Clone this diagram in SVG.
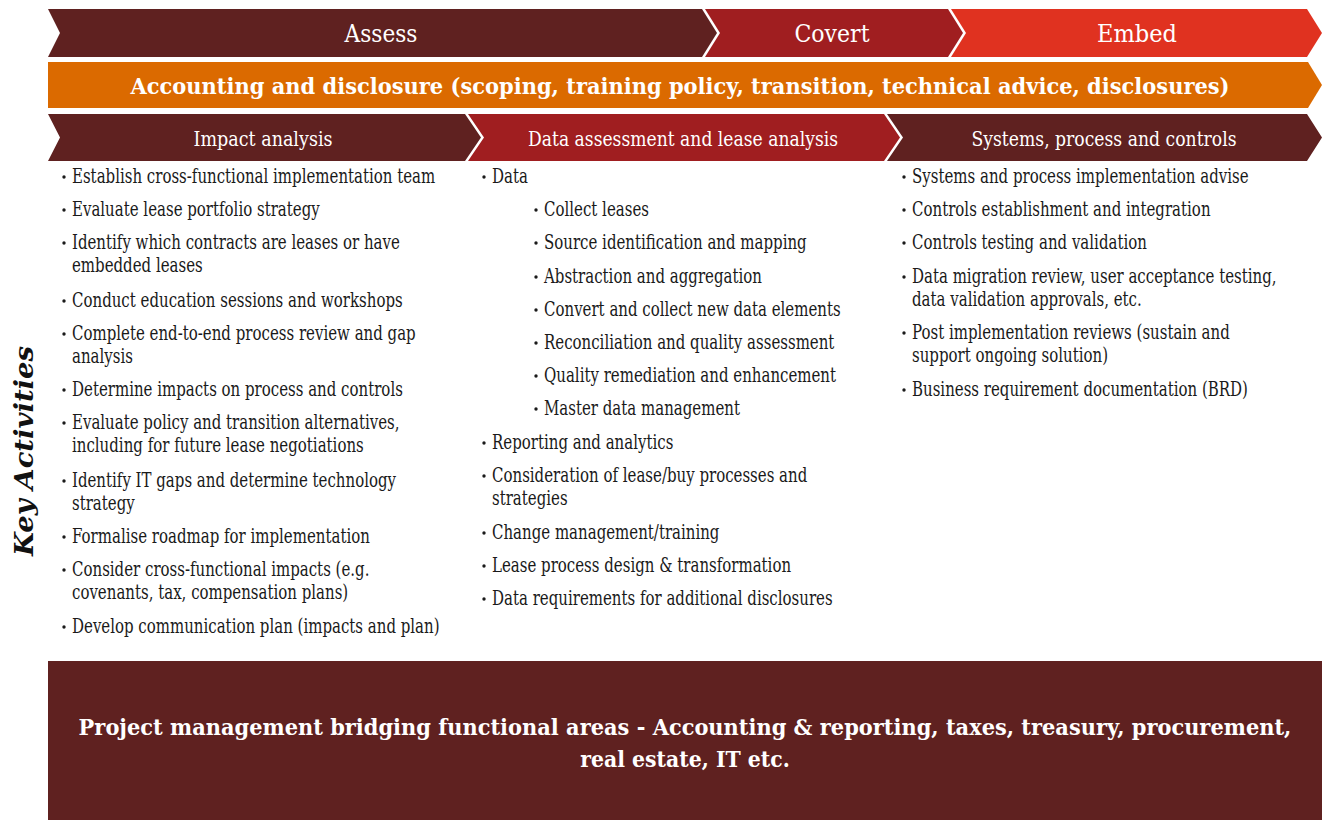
<svg xmlns="http://www.w3.org/2000/svg" width="1328" height="820" viewBox="0 0 1328 820">
  <style>
    .maroon { fill: #5f2120; }
    .red { fill: #a01e20; }
    .bright { fill: #e03220; }
    .orange { fill: #db6a00; }
    .hd { font-family: "DejaVu Serif", "Liberation Serif", serif; fill: #ffffff; text-anchor: middle; }
    .phase { font-size: 24px; }
    .band { font-size: 22px; font-weight: bold; }
    .stream { font-size: 20px; }
    .foot { font-size: 23px; font-weight: bold; }
    .body { font-family: "DejaVu Serif", "Liberation Serif", serif; font-size: 20px; fill: #1a1a1a; }
    .dot { fill: #1a1a1a; }
    .side { font-family: "DejaVu Serif", "Liberation Serif", serif; font-size: 26px; font-weight: bold; font-style: italic; fill: #111111; text-anchor: middle; }
  </style>

  <!-- phase chevrons -->
  <g id="phase-assess">
    <polygon class="maroon" points="48,9 702,9 717,33 702,57 48,57 60,33"/>
    <text class="hd phase" x="381" y="42" textLength="73" lengthAdjust="spacingAndGlyphs">Assess</text>
  </g>
  <g id="phase-covert">
    <polygon class="red" points="705,9 948,9 963,33 948,57 705,57 720,33"/>
    <text class="hd phase" x="832" y="42" textLength="75" lengthAdjust="spacingAndGlyphs">Covert</text>
  </g>
  <g id="phase-embed">
    <polygon class="bright" points="951,9 1307,9 1322,33 1307,57 951,57 966,33"/>
    <text class="hd phase" x="1137" y="42" textLength="80" lengthAdjust="spacingAndGlyphs">Embed</text>
  </g>

  <!-- accounting band -->
  <g id="accounting-band">
    <polygon class="orange" points="48,62 1308,62 1322,85 1308,108 48,108"/>
    <text class="hd band" transform="translate(680,94) scale(0.85,1)" x="0" y="0" textLength="1293" lengthAdjust="spacingAndGlyphs">Accounting and disclosure (scoping, training policy, transition, technical advice, disclosures)</text>
  </g>

  <!-- workstream chevrons -->
  <g id="stream-impact">
    <polygon class="maroon" points="48,114 465,114 481,137.5 465,161 48,161 60,137.5"/>
    <text class="hd stream" x="263" y="146" textLength="139" lengthAdjust="spacingAndGlyphs">Impact analysis</text>
  </g>
  <g id="stream-data">
    <polygon class="red" points="468,114 884,114 900,137.5 884,161 468,161 484,137.5"/>
    <text class="hd stream" x="683" y="146" textLength="310" lengthAdjust="spacingAndGlyphs">Data assessment and lease analysis</text>
  </g>
  <g id="stream-systems">
    <polygon class="maroon" points="887,114 1307,114 1322,137.5 1307,161 887,161 903,137.5"/>
    <text class="hd stream" x="1104" y="146" textLength="265" lengthAdjust="spacingAndGlyphs">Systems, process and controls</text>
  </g>

  <!-- side label -->
  <g id="key-activities">
    <text class="side" transform="translate(33,451) rotate(-90)" textLength="210" lengthAdjust="spacingAndGlyphs">Key Activities</text>
  </g>

  <!-- impact analysis activities -->
  <g id="list-impact">
    <g class="dot">
      <circle cx="64" cy="177" r="1.7"/>
      <circle cx="64" cy="210" r="1.7"/>
      <circle cx="64" cy="243" r="1.7"/>
      <circle cx="64" cy="301" r="1.7"/>
      <circle cx="64" cy="334" r="1.7"/>
      <circle cx="64" cy="390" r="1.7"/>
      <circle cx="64" cy="423" r="1.7"/>
      <circle cx="64" cy="481" r="1.7"/>
      <circle cx="64" cy="537" r="1.7"/>
      <circle cx="64" cy="570" r="1.7"/>
      <circle cx="64" cy="627" r="1.7"/>
    </g>
    <g class="body" transform="translate(72,0) scale(0.75,1)">
      <text x="0" y="183">Establish cross-functional implementation team</text>
      <text x="0" y="216">Evaluate lease portfolio strategy</text>
      <text x="0" y="249">Identify which contracts are leases or have</text>
      <text x="0" y="272">embedded leases</text>
      <text x="0" y="307">Conduct education sessions and workshops</text>
      <text x="0" y="340">Complete end-to-end process review and gap</text>
      <text x="0" y="363">analysis</text>
      <text x="0" y="396">Determine impacts on process and controls</text>
      <text x="0" y="429">Evaluate policy and transition alternatives,</text>
      <text x="0" y="452">including for future lease negotiations</text>
      <text x="0" y="487">Identify IT gaps and determine technology</text>
      <text x="0" y="510">strategy</text>
      <text x="0" y="543">Formalise roadmap for implementation</text>
      <text x="0" y="576">Consider cross-functional impacts (e.g.</text>
      <text x="0" y="599">covenants, tax, compensation plans)</text>
      <text x="0" y="633">Develop communication plan (impacts and plan)</text>
    </g>
  </g>

  <!-- data assessment activities -->
  <g id="list-data">
    <g class="dot">
      <circle cx="484" cy="177" r="1.7"/>
      <circle cx="536" cy="210" r="1.7"/>
      <circle cx="536" cy="243" r="1.7"/>
      <circle cx="536" cy="277" r="1.7"/>
      <circle cx="536" cy="310" r="1.7"/>
      <circle cx="536" cy="343" r="1.7"/>
      <circle cx="536" cy="376" r="1.7"/>
      <circle cx="536" cy="409" r="1.7"/>
      <circle cx="484" cy="443" r="1.7"/>
      <circle cx="484" cy="476" r="1.7"/>
      <circle cx="484" cy="533" r="1.7"/>
      <circle cx="484" cy="566" r="1.7"/>
      <circle cx="484" cy="599" r="1.7"/>
    </g>
    <g class="body" transform="translate(492,0) scale(0.75,1)">
      <text x="0" y="183">Data</text>
      <text x="0" y="449">Reporting and analytics</text>
      <text x="0" y="482">Consideration of lease/buy processes and</text>
      <text x="0" y="505">strategies</text>
      <text x="0" y="539">Change management/training</text>
      <text x="0" y="572">Lease process design &amp; transformation</text>
      <text x="0" y="605">Data requirements for additional disclosures</text>
    </g>
    <g class="body" transform="translate(544,0) scale(0.75,1)">
      <text x="0" y="216">Collect leases</text>
      <text x="0" y="249">Source identification and mapping</text>
      <text x="0" y="283">Abstraction and aggregation</text>
      <text x="0" y="316">Convert and collect new data elements</text>
      <text x="0" y="349">Reconciliation and quality assessment</text>
      <text x="0" y="382">Quality remediation and enhancement</text>
      <text x="0" y="415">Master data management</text>
    </g>
  </g>

  <!-- systems activities -->
  <g id="list-systems">
    <g class="dot">
      <circle cx="904" cy="177" r="1.7"/>
      <circle cx="904" cy="210" r="1.7"/>
      <circle cx="904" cy="243" r="1.7"/>
      <circle cx="904" cy="277" r="1.7"/>
      <circle cx="904" cy="333" r="1.7"/>
      <circle cx="904" cy="390" r="1.7"/>
    </g>
    <g class="body" transform="translate(912,0) scale(0.75,1)">
      <text x="0" y="183">Systems and process implementation advise</text>
      <text x="0" y="216">Controls establishment and integration</text>
      <text x="0" y="249">Controls testing and validation</text>
      <text x="0" y="283">Data migration review, user acceptance testing,</text>
      <text x="0" y="306">data validation approvals, etc.</text>
      <text x="0" y="339">Post implementation reviews (sustain and</text>
      <text x="0" y="362">support ongoing solution)</text>
      <text x="0" y="396">Business requirement documentation (BRD)</text>
    </g>
  </g>

  <!-- project management footer -->
  <g id="project-management">
    <rect class="maroon" x="48" y="661" width="1274" height="159"/>
    <text class="hd foot" transform="translate(685,735) scale(0.8,1)" x="0" y="0" textLength="1516" lengthAdjust="spacingAndGlyphs">Project management bridging functional areas - Accounting &amp; reporting, taxes, treasury, procurement,</text>
    <text class="hd foot" transform="translate(685,767) scale(0.8,1)" x="0" y="0" textLength="262" lengthAdjust="spacingAndGlyphs">real estate, IT etc.</text>
  </g>
</svg>
